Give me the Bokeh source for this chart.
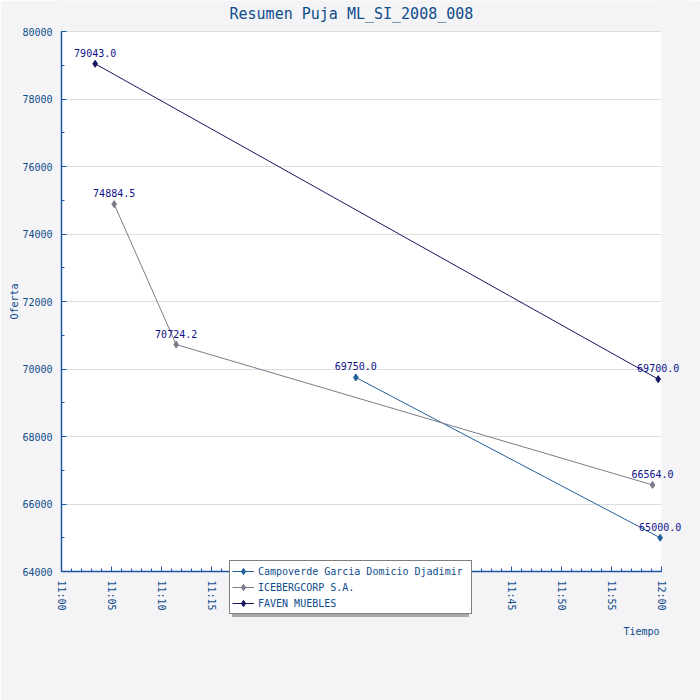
import pandas as pd
from bokeh.plotting import figure
from bokeh.core.properties import value
from bokeh.models import (ColumnDataSource, FixedTicker, DatetimeTickFormatter, LabelSet,
                          Legend, LegendItem, Title, Range1d, BoxAnnotation, Label, LinearAxis)
from bokeh.embed import file_html
from bokeh.resources import INLINE

# ---------------- data ----------------
BASE_DATE = "2008-01-01"
TITLE = "Resumen Puja ML_SI_2008_008"
X_LABEL = "Tiempo"
Y_LABEL = "Oferta"
SERIES_NAMES = ["Campoverde Garcia Domicio Djadimir", "ICEBERGCORP S.A.", "FAVEN MUEBLES"]

CAMPOVERDE_TIMES = ["11:29:26", "11:59:52"]
CAMPOVERDE_VALUES = [69750.0, 65000.0]

ICEBERG_TIMES = ["11:05:16", "11:11:28", "11:59:06"]
ICEBERG_VALUES = [74884.5, 70724.2, 66564.0]

FAVEN_TIMES = ["11:03:22", "11:59:40"]
FAVEN_VALUES = [79043.0, 69700.0]

X_TICK_LABELS = ["11:00", "11:05", "11:10", "11:15", "11:20", "11:25", "11:30",
                 "11:35", "11:40", "11:45", "11:50", "11:55", "12:00"]
Y_TICKS = [64000, 66000, 68000, 70000, 72000, 74000, 76000, 78000, 80000]
Y_MINOR_TICKS = [64000, 65000, 66000, 67000, 68000, 69000, 70000, 71000, 72000,
                 73000, 74000, 75000, 76000, 77000, 78000, 79000, 80000]

COLORS = ["#22609A", "#7C7C8E", "#161660"]
TEXT_BLUE = "#0F4C8C"
LABEL_NAVY = "#10108A"
AXIS_BLUE = "#1A55A0"
PAGE_GRAY = "#F4F4F6"
FONT = "DejaVu Sans Mono"


def to_ms(t):
    return pd.Timestamp(f"{BASE_DATE} {t}").timestamp() * 1000.0


x_ticks = [to_ms(t) for t in X_TICK_LABELS]
x_minor = [x_ticks[0] + i * 60000.0 for i in range(61)]
x_start, x_end = x_ticks[0], x_ticks[-1]
y_lo, y_hi = Y_TICKS[0], Y_TICKS[-1]

# ---------------- layout (pixels) ----------------
PX_PER_MIN = 10.0            # 11:00..12:00 spans 600 px
PX_PER_UNIT = 540.0 / (y_hi - y_lo)
PAD_LEFT, PAD_RIGHT = 7, 29  # frame room left of 11:00 / right of 12:00
PAD_TOP, PAD_BOTTOM = 31, 79 # frame room above 80000 / below 64000
FRAME_W = int(60 * PX_PER_MIN) + PAD_LEFT + PAD_RIGHT
FRAME_H = 540 + PAD_TOP + PAD_BOTTOM

x_range = Range1d(x_start - PAD_LEFT / PX_PER_MIN * 60000.0,
                  x_end + PAD_RIGHT / PX_PER_MIN * 60000.0)
y_range = Range1d(y_lo - PAD_BOTTOM / PX_PER_UNIT, y_hi + PAD_TOP / PX_PER_UNIT)

p = figure(frame_width=FRAME_W, frame_height=FRAME_H, title_location=None,
           min_border_left=54, min_border_right=10, min_border_top=0, min_border_bottom=50,
           x_axis_type="datetime", output_backend="svg", toolbar_location=None,
           x_range=x_range, y_range=y_range)

p.border_fill_color = PAGE_GRAY
p.background_fill_color = PAGE_GRAY
p.outline_line_color = None

# white plot box (drawn beneath the grid)
p.add_layout(BoxAnnotation(left=x_start, right=x_end, bottom=y_lo, top=y_hi,
                           fill_color="white", fill_alpha=1.0, line_color=None,
                           level="image"))

# ---------------- axes ----------------
xaxis = p.xaxis[0]
xaxis.ticker = FixedTicker(ticks=x_ticks, minor_ticks=x_minor)
xaxis.formatter = DatetimeTickFormatter(
    seconds="%H:%M", minsec="%H:%M", minutes="%H:%M", hourmin="%H:%M",
    hours="%H:%M", days="%H:%M", months="%H:%M", years="%H:%M",
    milliseconds="%H:%M", microseconds="%H:%M")
xaxis.major_label_orientation = "vertical"
xaxis.bounds = (x_start, x_end)
xaxis.fixed_location = y_lo
xaxis.major_label_standoff = 9

# y axis in the side panel: tick labels only
ylab = p.yaxis[0]
ylab.ticker = FixedTicker(ticks=Y_TICKS)
ylab.bounds = (y_lo, y_hi)
ylab.axis_line_color = None
ylab.major_tick_line_color = None
ylab.minor_tick_line_color = None
ylab.major_tick_in = 0
ylab.major_tick_out = 0
ylab.minor_tick_out = 0
ylab.major_label_standoff = 2

# y axis line and ticks at 11:00
yline = LinearAxis(fixed_location=x_start, bounds=(y_lo, y_hi),
                   ticker=FixedTicker(ticks=Y_TICKS, minor_ticks=Y_MINOR_TICKS),
                   major_label_overrides={t: "" for t in Y_TICKS},
                   major_label_standoff=0)

for ax in (xaxis, yline):
    ax.axis_line_color = AXIS_BLUE
    ax.axis_line_width = 1.5
    ax.major_tick_line_color = AXIS_BLUE
    ax.minor_tick_line_color = AXIS_BLUE
    ax.major_tick_in = 5
    ax.major_tick_out = 0
    ax.minor_tick_in = 3
    ax.minor_tick_out = 0
for ax in (xaxis, ylab, yline):
    ax.major_label_text_font = FONT
    ax.major_label_text_font_size = "10px"
    ax.major_label_text_color = TEXT_BLUE

p.add_layout(Title(text=Y_LABEL, align="left", offset=331, standoff=0,
                   text_font=FONT, text_font_size="10px", text_font_style="normal",
                   text_color=TEXT_BLUE), "left")
p.add_layout(yline, "left")

p.xgrid.grid_line_color = None
p.ygrid.grid_line_color = "#DDDDDD"
p.ygrid.ticker = FixedTicker(ticks=Y_TICKS)
p.ygrid.bounds = (y_lo, y_hi)

# gray areas outside the reference plot box (hide grid lines there)
for kw in (dict(left=x_end), dict(right=x_start)):
    p.add_layout(BoxAnnotation(fill_color=PAGE_GRAY, fill_alpha=1.0,
                               line_color=None, level="underlay", **kw))

# chart title and x axis title
p.add_layout(Label(x=x_start, y=y_hi, x_offset=168, y_offset=18, text=TITLE,
                   text_align="left", text_baseline="middle", text_font=FONT,
                   text_font_size="15px", text_color=TEXT_BLUE))
p.add_layout(Label(x=x_end, y=y_lo, x_offset=-2, y_offset=-60, text=X_LABEL,
                   text_align="right", text_baseline="middle", text_font=FONT,
                   text_font_size="10px", text_color=TEXT_BLUE))

# ---------------- series ----------------
series = [
    (SERIES_NAMES[0], CAMPOVERDE_TIMES, CAMPOVERDE_VALUES, COLORS[0]),
    (SERIES_NAMES[1], ICEBERG_TIMES, ICEBERG_VALUES, COLORS[1]),
    (SERIES_NAMES[2], FAVEN_TIMES, FAVEN_VALUES, COLORS[2]),
]

items = []
label_sources = []
for name, times, vals, color in series:
    src = ColumnDataSource(dict(x=[to_ms(t) for t in times], y=vals,
                                label=[f"{v:.1f}" for v in vals]))
    ln = p.line("x", "y", source=src, line_color=color, line_width=1)
    sc = p.scatter("x", "y", source=src, marker="diamond", size=7,
                   fill_color=color, line_color=color)
    items.append(LegendItem(label=name, renderers=[ln, sc]))
    label_sources.append(src)

for src in label_sources:
    p.add_layout(LabelSet(x="x", y="y", text="label", source=src,
                          text_font=value(FONT), text_font_size=value("10px"),
                          text_color=LABEL_NAVY, text_align="center",
                          text_baseline="alphabetic", y_offset=7))

legend_style = dict(orientation="vertical", label_text_font=FONT, label_text_font_size="10px",
                    label_height=16, glyph_height=16, glyph_width=22, label_standoff=4,
                    label_width=211, spacing=0, padding=2, margin=0)

# drop shadow of the legend: an identical, blank legend offset by 3px
ghost = p.scatter(x=[], y=[], marker="diamond", fill_alpha=0, line_alpha=0)
shadow_items = [LegendItem(label=n, renderers=[ghost]) for n in SERIES_NAMES]
shadow = Legend(items=shadow_items, location=(178, 33), label_text_alpha=0,
                border_line_color=None, background_fill_color="#A9A9A9",
                background_fill_alpha=1.0, **legend_style)
p.add_layout(shadow, "center")

legend = Legend(items=items, location=(175, 36), label_text_color=TEXT_BLUE,
                border_line_color="black", border_line_width=1,
                background_fill_color="white", background_fill_alpha=1.0, **legend_style)
p.add_layout(legend, "center")

open("out.html", "w").write(file_html(p, INLINE))
